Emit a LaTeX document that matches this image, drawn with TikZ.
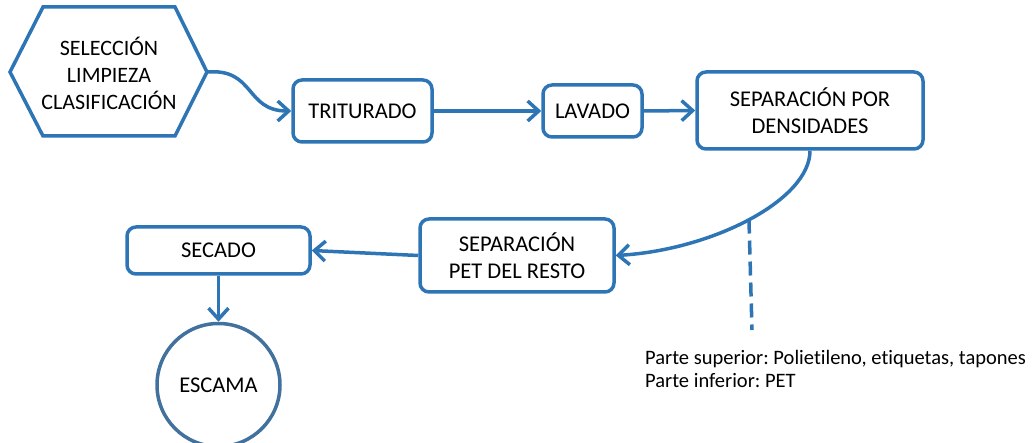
\documentclass[tikz,border=0pt]{standalone}
\usepackage{fontspec}
\setmainfont{Carlito}[Ligatures=NoCommon]
\usetikzlibrary{arrows.meta}
\definecolor{lineblue}{RGB}{46,117,182}
\definecolor{circblue}{RGB}{65,113,156}
\frenchspacing
\begin{document}
\begin{tikzpicture}[x=1pt,y=-1pt,
  box/.style={draw=lineblue,line width=3.5pt,rounded corners=9pt,fill=white,align=center,inner sep=0pt,font=\fontsize{22.5}{27}\selectfont},
  conn/.style={draw=lineblue,line width=3.5pt,-{Straight Barb[length=11pt,width=20pt]}},
  dashline/.style={draw=lineblue,line width=3.5pt,dash pattern=on 14pt off 7pt},
  circ/.style={draw=circblue,line width=3.5pt,circle,fill=white,inner sep=0pt,minimum size=123pt,font=\fontsize{22.5}{27}\selectfont},
  note/.style={align=left,inner sep=0pt,font=\fontsize{20.5}{23}\selectfont}]
\useasboundingbox (0,0) rectangle (1034,443);
% hexagon
\draw[draw=lineblue,line width=3.5pt,line join=miter] (43,7) -- (175,7) -- (207,72) -- (175,136) -- (43,136) -- (10,72) -- cycle;
\node[align=center,inner sep=0pt,font=\fontsize{22}{27}\selectfont] (hex) at (109,73) {SELECCIÓN\\LIMPIEZA\\CLASIFICACIÓN};
\coordinate (hexE) at (207,72);
% boxes
\node[box,minimum width=139pt,minimum height=62pt] (trit) at (362.5,111) {TRITURADO};
\node[box,minimum width=99pt,minimum height=52pt] (lav) at (592.5,111) {LAVADO};
\node[box,minimum width=226pt,minimum height=77pt] (dens) at (810,110.5) {SEPARACIÓN POR\\DENSIDADES};
\node[box,minimum width=194pt,minimum height=73pt] (pet) at (517,255.5) {SEPARACIÓN\\PET DEL RESTO};
\node[box,minimum width=183pt,minimum height=47pt] (sec) at (218.5,250.5) {SECADO};
\node[circ] (esc) at (218.5,385) {ESCAMA};
\coordinate (dend) at (752,330);
% connectors
\draw[conn] (hexE) .. controls (255,68) and (245,111) .. (trit.west);
\draw[conn] (trit.east) -- (lav.west);
\draw[conn] (lav.east) -- (dens.west);
\draw[conn] (dens.south) .. controls (810,200) and (712,250) .. (pet.east) coordinate[pos=0.5] (mid);
\draw[dashline] (mid) -- (dend);
\draw[conn] (pet.west) -- (sec.east);
\draw[conn] (sec.south) -- (esc.north);
% note
\node[note,anchor=west] (lbl) at (645,369) {Parte superior: Polietileno, etiquetas, tapones\\Parte inferior: PET};
\end{tikzpicture}
\end{document}
